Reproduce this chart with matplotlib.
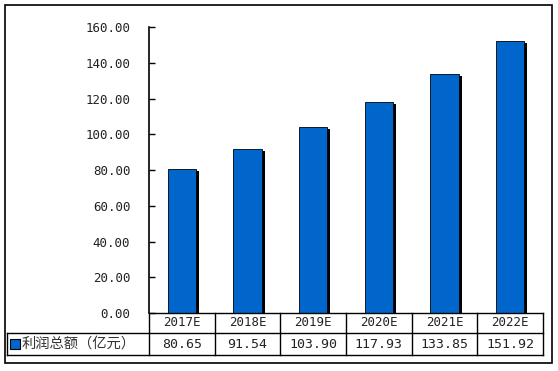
import numpy as np
import matplotlib.pyplot as plt
from matplotlib import patheffects
from matplotlib.lines import Line2D
from matplotlib.patches import Rectangle
from matplotlib.transforms import blended_transform_factory

plt.rcParams['font.family'] = ['DejaVu Sans Mono', 'Noto Sans CJK SC']

categories = ['2017E', '2018E', '2019E', '2020E', '2021E', '2022E']
profit = [80.65, 91.54, 103.90, 117.93, 133.85, 151.92]
value_labels = ['80.65', '91.54', '103.90', '117.93', '133.85', '151.92']
series_name = '利润总额（亿元）'
yticks = np.arange(0, 161, 20)

W, H = 558, 371
fig = plt.figure(figsize=(W / 100, H / 100), dpi=100)

def fx(px):
    return px / W

def fy(py):
    return 1 - py / H

ax = fig.add_axes([fx(149), fy(313), fx(543) - fx(149), fy(27) - fy(313)])

x = np.arange(len(categories))
bar_color = '#0066CC'
bars = ax.bar(x, profit, width=0.43, color=bar_color, edgecolor='black', linewidth=0.6, zorder=3)
for b in bars:
    b.set_path_effects([patheffects.SimplePatchShadow(offset=(2.2, -1.4), shadow_rgbFace='black', alpha=1.0),
                        patheffects.Normal()])

ax.set_xlim(-0.5, len(categories) - 0.5)
ax.set_ylim(0, 160)
ax.set_yticks(yticks, [f'{v:.2f}' for v in yticks])
ax.set_xticks([])
ax.tick_params(axis='y', direction='in', length=4, width=1, labelsize=9, pad=13.5,
               labelcolor='#222222')
for s in ['top', 'right', 'bottom']:
    ax.spines[s].set_visible(False)
ax.spines['left'].set_linewidth(1.2)

# table below the axes
tr = blended_transform_factory(ax.transData, fig.transFigure)
trf = fig.transFigure
lw = 1.0
y_top, y_mid, y_bot = fy(313), fy(333), fy(355)
n = len(categories)

fig.add_artist(Line2D([-0.5, n - 0.5], [y_top, y_top], transform=tr, color='black', lw=lw))
fig.add_artist(Line2D([fx(7), fx(543)], [y_mid, y_mid], transform=trf, color='black', lw=lw))
fig.add_artist(Line2D([fx(7), fx(543)], [y_bot, y_bot], transform=trf, color='black', lw=lw))
fig.add_artist(Line2D([fx(7), fx(7)], [y_mid, y_bot], transform=trf, color='black', lw=lw))
for i in range(n + 1):
    fig.add_artist(Line2D([i - 0.5, i - 0.5], [y_top, y_bot], transform=tr, color='black', lw=lw))

for i, (c, v) in enumerate(zip(categories, value_labels)):
    fig.text(i, (y_top + y_mid) / 2, c, transform=tr, ha='center', va='center', fontsize=9,
             color='#222222')
    fig.text(i, (y_mid + y_bot) / 2, v, transform=tr, ha='center', va='center', fontsize=9.5,
             color='#222222')

fig.add_artist(Rectangle((fx(10), fy(349)), fx(10), fy(339) - fy(349), transform=trf,
                         facecolor=bar_color, edgecolor='black', lw=0.8))
fig.text(fx(22), (y_mid + y_bot) / 2, series_name, transform=trf, ha='left', va='center',
         fontsize=10.3, color='#333333', family=['Noto Sans CJK SC', 'DejaVu Sans'])

# outer border
fig.add_artist(Rectangle((fx(5), fy(363)), fx(552) - fx(5), fy(5) - fy(363), transform=trf,
                         facecolor='none', edgecolor='black', lw=1.2))

fig.savefig('out.png', dpi=100)
